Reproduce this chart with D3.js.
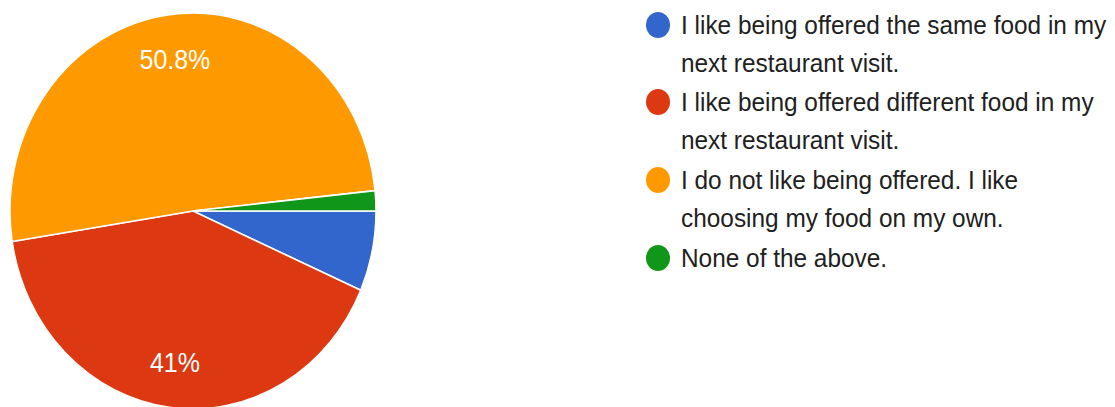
<!DOCTYPE html>
<html>
<head>
<meta charset="utf-8">
<script src="https://cdn.jsdelivr.net/npm/d3@7"></script>
<style>
  html, body { margin: 0; padding: 0; background: #fff; }
  svg { display: block; }
  text { font-family: Arial, "Liberation Sans", sans-serif; }
</style>
</head>
<body>
<svg id="chart" width="1115" height="407"></svg>
<script>
// Survey responses (count per answer)
const categories = [
  "I like being offered the same food in my next restaurant visit.",
  "I like being offered different food in my next restaurant visit.",
  "I do not like being offered. I like choosing my food on my own.",
  "None of the above."
];
const legendLines = [
  ["I like being offered the same food in my", "next restaurant visit."],
  ["I like being offered different food in my", "next restaurant visit."],
  ["I do not like being offered. I like", "choosing my food on my own."],
  ["None of the above."]
];
const counts = [4, 25, 31, 1];
const colors = ["#3366cc", "#dc3912", "#ff9900", "#109618"];

const ky = 198 / 183;          // vertical stretch of the drawing
const svg = d3.select("#chart");
const root = svg.append("g").attr("transform", `scale(1, ${ky})`);

const cx = 193, cy = 211 / ky, r = 183;
const total = d3.sum(counts);

const pie = d3.pie().sort(null).value(d => d)
  .startAngle(Math.PI / 2).endAngle(Math.PI / 2 + 2 * Math.PI);
const arcs = pie(counts);
const arc = d3.arc().innerRadius(0).outerRadius(r);
const labelArc = d3.arc().innerRadius(r * 0.77).outerRadius(r * 0.77);

const pieG = root.append("g").attr("transform", `translate(${cx},${cy})`);
pieG.selectAll("path").data(arcs).join("path")
  .attr("d", arc)
  .attr("fill", (d, i) => colors[i])
  .attr("stroke", "#fff")
  .attr("stroke-width", 1.5);

const fmt = v => {
  const p = Math.round(v / total * 1000) / 10;
  return (Number.isInteger(p) ? p.toFixed(0) : p.toFixed(1)) + "%";
};
pieG.selectAll("text.pct").data(arcs.filter(d => d.value / total > 0.1)).join("text")
  .attr("class", "pct")
  .attr("x", d => labelArc.centroid(d)[0])
  .attr("y", d => labelArc.centroid(d)[1])
  .attr("text-anchor", "middle")
  .attr("dominant-baseline", "central")
  .attr("fill", "#fff")
  .attr("font-size", 25)
  .text(d => fmt(d.value));

// Legend
const lg = root.append("g");
const dotX = 658, textX = 681;
const itemY = [25, 102, 180, 258].map(v => v / ky);
const lineH = 37.5 / ky;
categories.forEach((c, i) => {
  const g = lg.append("g");
  g.append("circle").attr("cx", dotX).attr("cy", itemY[i]).attr("r", 12).attr("fill", colors[i]);
  legendLines[i].forEach((ln, j) => {
    g.append("text")
      .attr("x", textX).attr("y", itemY[i] + j * lineH)
      .attr("dominant-baseline", "central")
      .attr("font-size", 24.4)
      .attr("fill", "#212121")
      .text(ln);
  });
});
</script>
</body>
</html>
